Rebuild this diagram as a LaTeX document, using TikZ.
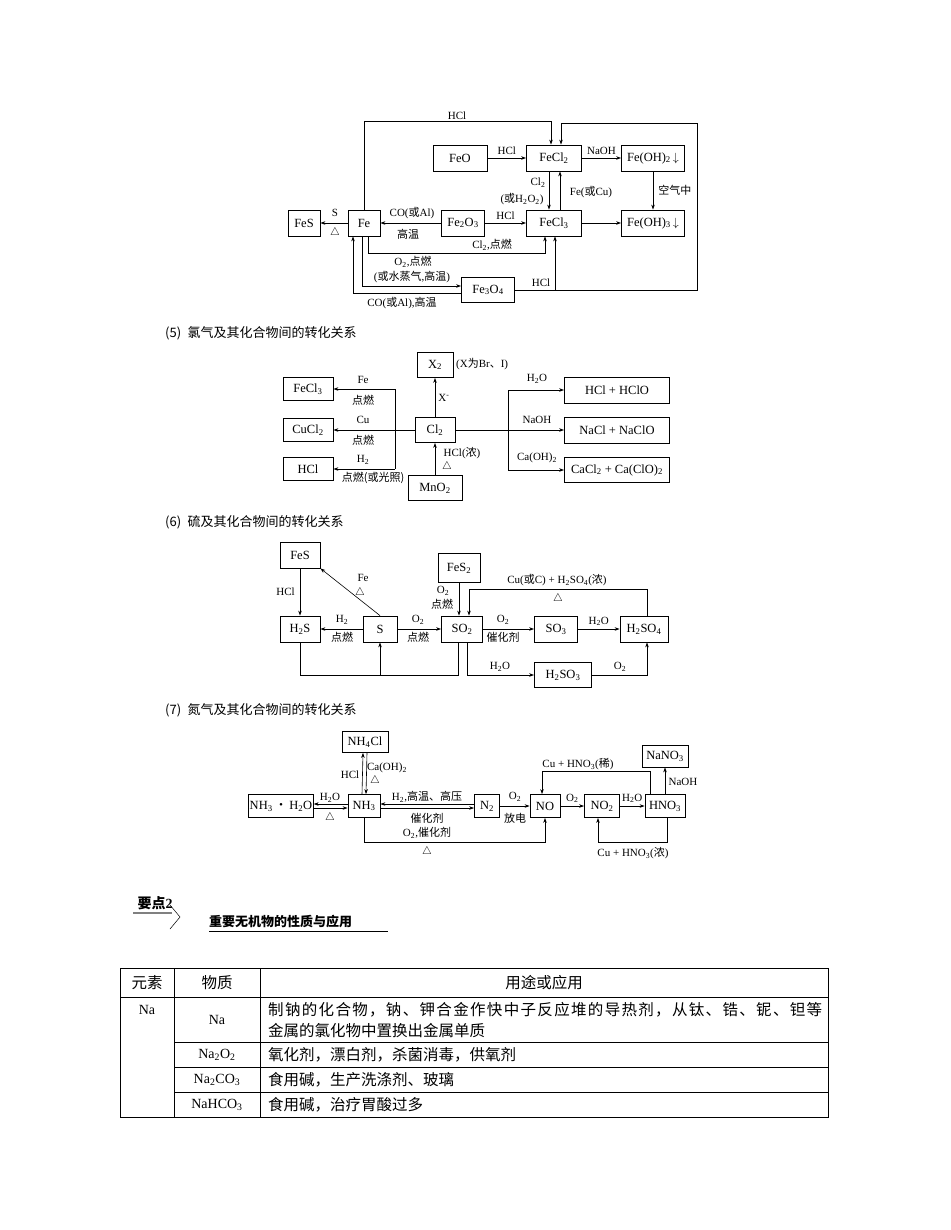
\documentclass[tikz,border=0pt]{standalone}
\usepackage{fontspec}
\setmainfont{Liberation Serif}
\newfontfamily\zhf{Noto Sans CJK SC}
\newcommand\zh[1]{{\zhf #1}}
\newcommand\dn[1]{\textsubscript{#1}}
\newcommand\up[1]{\textsuperscript{#1}}
\usetikzlibrary{arrows.meta}
\begin{document}
\begin{tikzpicture}[x=1pt,y=-1pt,
  bx/.style={draw,line width=0.8pt,minimum height=26pt,inner sep=1pt,font=\fontsize{12.5}{13}\selectfont},
  arr/.style={-{Stealth[length=5pt,width=3.5pt]},line width=0.6pt},
  ln/.style={line width=0.6pt},
  lb/.style={font=\fontsize{11}{11}\selectfont,inner sep=0pt},
  hd/.style={font=\fontsize{13}{14}\selectfont,anchor=west,inner sep=0pt},
  tx/.style={font=\fontsize{15.5}{16}\selectfont,inner sep=0pt},
  tl/.style={font=\fontsize{14}{15}\selectfont,inner sep=0pt}]
\useasboundingbox (0,0) rectangle (950,1230);
% ===== iron =====
\node[bx,minimum width=54pt] (FeO) at (460,158) {FeO};
\node[bx,minimum width=55pt] (FeCl2) at (554,158) {FeCl\dn{2}};
\node[bx,minimum width=63pt] (FeOH2) at (653,158) {Fe(OH)\dn{2}\,$\downarrow$};
\node[bx,minimum width=32pt] (FeS) at (304,223) {FeS};
\node[bx,minimum width=32pt] (Fe) at (364,223) {Fe};
\node[bx,minimum width=43pt] (Fe2O3) at (463,223) {Fe\dn{2}O\dn{3}};
\node[bx,minimum width=55pt] (FeCl3) at (554,223) {FeCl\dn{3}};
\node[bx,minimum width=63pt] (FeOH3) at (653,223) {Fe(OH)\dn{3}\,$\downarrow$};
\node[bx,minimum width=53pt,minimum height=25pt] (Fe3O4) at (488,290) {Fe\dn{3}O\dn{4}};
\draw[arr] (Fe.north) -- ++(0,-88) -| ([xshift=-3pt]FeCl2.north);
\node[lb] at (457,116) {HCl};
\coordinate (j1) at (555,290);
\draw[arr] (Fe3O4.east) -- (697,290) -- (697,123) -| ([xshift=7pt]FeCl2.north);
\draw[arr] (j1) -- (j1 |- FeCl3.south);
\node[lb] at (541,283) {HCl};
\draw[arr] (FeO) -- (FeCl2) node[lb,midway,above=3pt] {HCl};
\draw[arr] (FeCl2) -- (FeOH2) node[lb,midway,above=3pt] {NaOH};
\draw[arr] (FeOH2) -- (FeOH3) node[lb,midway,right=5pt] {\zh{空气中}};
\draw[arr] ([xshift=-5pt]FeCl2.south) -- ([xshift=-5pt]FeCl3.north);
\node[lb] at (538,183) {Cl\dn{2}};
\node[lb] at (522,199) {(\zh{或}H\dn{2}O\dn{2})};
\draw[arr] ([xshift=6pt]FeCl3.north) -- ([xshift=6pt]FeCl2.south);
\node[lb] at (591,192) {Fe(\zh{或}Cu)};
\draw[arr] (Fe2O3) -- (Fe);
\node[lb] at (412,213) {CO(\zh{或}Al)};
\node[lb] at (408,234) {\zh{高温}};
\draw[arr] (Fe2O3) -- (FeCl3) node[lb,midway,above=3pt] {HCl};
\draw[arr] (FeCl3) -- (FeOH3);
\draw[arr] (Fe) -- (FeS);
\node[lb] at (335,213) {S};
\node[lb] at (335,233) {$\triangle$};
\draw[arr] ([xshift=4pt]Fe.south) -- ++(0,17) -| ([xshift=-9pt]FeCl3.south);
\node[lb] at (492,245) {Cl\dn{2},\zh{点燃}};
\draw[arr] ([xshift=-2pt]Fe.south) |- ([yshift=4pt]Fe3O4.west);
\node[lb] at (413,262) {O\dn{2},\zh{点燃}};
\node[lb] at (412,277) {(\zh{或水蒸气},\zh{高温})};
\draw[arr] ([yshift=-3pt]Fe3O4.west) -| ([xshift=-11pt]Fe.south);
\node[lb] at (402,303) {CO(\zh{或}Al),\zh{高温}};
% ===== heading 5 =====
\node[hd] at (165,333) {\zh{(5)\enspace 氯气及其化合物间的转化关系}};
% ===== chlorine =====
\node[bx,minimum width=36pt,minimum height=25pt] (X2) at (435,365) {X\dn{2}};
\node[lb,anchor=west] at (456,364) {(X\zh{为}Br\zh{、}I)};
\node[bx,minimum width=50pt,minimum height=23pt] (FeCl3b) at (308,389) {FeCl\dn{3}};
\node[bx,minimum width=50pt,minimum height=23pt] (CuCl2) at (308,430) {CuCl\dn{2}};
\node[bx,minimum width=50pt,minimum height=23pt] (HClb) at (308,469) {HCl};
\node[bx,minimum width=40pt,minimum height=25pt] (Cl2) at (435,430) {Cl\dn{2}};
\node[bx,minimum width=54pt,minimum height=25pt] (MnO2) at (435,488) {MnO\dn{2}};
\node[bx,minimum width=105pt] (P1) at (617,390) {HCl + HClO};
\node[bx,minimum width=105pt] (P2) at (617,430) {NaCl + NaClO};
\node[bx,minimum width=105pt,minimum height=25pt] (P3) at (617,470) {CaCl\dn{2} + Ca(ClO)\dn{2}};
\coordinate (cl) at (395,430);
\draw[ln] (Cl2.west) -- (cl);
\draw[ln] (cl |- FeCl3b) -- (cl |- HClb);
\draw[arr] (cl |- FeCl3b) -- (FeCl3b.east);
\draw[arr] (cl) -- (CuCl2.east);
\draw[arr] (cl |- HClb) -- (HClb.east);
\node[lb] at (363,380) {Fe}; \node[lb] at (363,400) {\zh{点燃}};
\node[lb] at (363,420) {Cu}; \node[lb] at (363,440) {\zh{点燃}};
\node[lb] at (363,460) {H\dn{2}}; \node[lb] at (373,478) {\zh{点燃(或光照)}};
\draw[arr] (Cl2) -- (X2) node[lb,midway,right=3pt] {X\up{-}};
\draw[arr] (MnO2) -- (Cl2);
\node[lb] at (462,453) {HCl(\zh{浓})};
\node[lb] at (447,467) {$\triangle$};
\coordinate (cr) at (508,430);
\draw[ln] (Cl2.east) -- (cr);
\draw[ln] (cr |- P1) -- (cr |- P3);
\draw[arr] (cr |- P1) -- (P1.west);
\draw[arr] (cr) -- (P2.west);
\draw[arr] (cr |- P3) -- (P3.west);
\node[lb] at (537,379) {H\dn{2}O};
\node[lb] at (537,420) {NaOH};
\node[lb] at (537,458) {Ca(OH)\dn{2}};
% ===== heading 6 =====
\node[hd] at (165,522) {\zh{(6)\enspace 硫及其化合物间的转化关系}};
% ===== sulfur =====
\node[bx,minimum width=40pt] (FeSs) at (300,555) {FeS};
\node[bx,minimum width=40pt] (H2S) at (300,629) {H\dn{2}S};
\node[bx,minimum width=34pt] (S) at (380,629) {S};
\node[bx,minimum width=41pt] (SO2) at (462,629) {SO\dn{2}};
\node[bx,minimum width=42pt,minimum height=29pt] (FeS2) at (459,568) {FeS\dn{2}};
\node[bx,minimum width=43pt] (SO3) at (556,629) {SO\dn{3}};
\node[bx,minimum width=48pt] (H2SO4) at (644,629) {H\dn{2}SO\dn{4}};
\node[bx,minimum width=57pt,minimum height=25pt] (H2SO3) at (563,675) {H\dn{2}SO\dn{3}};
\draw[arr] (FeSs) -- (H2S) node[lb,midway,left=5pt] {HCl};
\draw[arr] (S.north) -- (FeSs.south east);
\node[lb] at (363,578) {Fe}; \node[lb] at (360,593) {$\triangle$};
\draw[arr] (S) -- (H2S);
\node[lb] at (342,620) {H\dn{2}}; \node[lb] at (342,637) {\zh{点燃}};
\draw[arr] (S) -- (SO2);
\node[lb] at (418,620) {O\dn{2}}; \node[lb] at (418,637) {\zh{点燃}};
\draw[arr] (FeS2) -- (FeS2 |- SO2.north);
\node[lb] at (443,591) {O\dn{2}}; \node[lb] at (442,604) {\zh{点燃}};
\draw[arr] ([xshift=3pt]H2SO4.north) -- ++(0,-26) -| ([xshift=7pt]SO2.north);
\node[lb] at (557,580) {Cu(\zh{或}C) + H\dn{2}SO\dn{4}(\zh{浓})};
\node[lb] at (558,599) {$\triangle$};
\draw[arr] (SO2) -- (SO3);
\node[lb] at (503,620) {O\dn{2}}; \node[lb] at (503,637) {\zh{催化剂}};
\draw[arr] (SO3) -- (H2SO4) node[lb,midway,above=3pt] {H\dn{2}O};
\coordinate (sb) at (380,675);
\draw[ln] (H2S.south) -- (H2S.south |- sb) -- (sb -| 458,0) -- ([xshift=-4pt]SO2.south);
\draw[arr] (sb) -- (S.south);
\draw[arr] ([xshift=5pt]SO2.south) |- (H2SO3.west);
\node[lb] at (500,667) {H\dn{2}O};
\draw[arr] (H2SO3.east) -| ([xshift=3pt]H2SO4.south);
\node[lb] at (620,667) {O\dn{2}};
% ===== heading 7 =====
\node[hd] at (165,710) {\zh{(7)\enspace 氮气及其化合物间的转化关系}};
% ===== nitrogen =====
\node[bx,minimum width=46pt,minimum height=21pt] (NH4Cl) at (365,742) {NH\dn{4}Cl};
\node[bx,minimum width=58pt,minimum height=23pt] (NH3W) at (281,806) {NH\dn{3}\,\zh{·}\,H\dn{2}O};
\node[bx,minimum width=32pt,minimum height=23pt] (NH3) at (364,806) {NH\dn{3}};
\node[bx,minimum width=25pt,minimum height=23pt] (N2) at (487,806) {N\dn{2}};
\node[bx,minimum width=30pt,minimum height=23pt] (NO) at (545,806) {NO};
\node[bx,minimum width=35pt,minimum height=23pt] (NO2) at (602,806) {NO\dn{2}};
\node[bx,minimum width=40pt,minimum height=23pt] (HNO3) at (665,806) {HNO\dn{3}};
\node[bx,minimum width=46pt,minimum height=22pt] (NaNO3) at (665,756) {NaNO\dn{3}};
\draw[arr] ([xshift=-2pt]NH3.north) -- ([xshift=-2pt]NH4Cl.south);
\draw[arr] ([xshift=2pt]NH4Cl.south) -- ([xshift=2pt]NH3.north);
\node[lb] at (350,775) {HCl};
\node[lb] at (387,768) {Ca(OH)\dn{2}};
\node[lb] at (375,781) {$\triangle$};
\draw[arr] ([yshift=2pt]NH3.west) -- ([yshift=2pt]NH3W.east);
\draw[arr] ([yshift=-2pt]NH3W.east) -- ([yshift=-2pt]NH3.west);
\node[lb] at (330,798) {H\dn{2}O}; \node[lb] at (330,818) {$\triangle$};
\draw[arr] ([yshift=2pt]N2.west) -- ([yshift=2pt]NH3.east);
\draw[arr] ([yshift=-2pt]NH3.east) -- ([yshift=-2pt]N2.west);
\node[lb] at (427,797) {H\dn{2},\zh{高温、高压}}; \node[lb] at (427,818) {\zh{催化剂}};
\draw[arr] (N2) -- (NO);
\node[lb] at (515,797) {O\dn{2}}; \node[lb] at (515,818) {\zh{放电}};
\draw[arr] (NH3.south) -- ++(0,24) -| (NO.south);
\node[lb] at (427,833) {O\dn{2},\zh{催化剂}}; \node[lb] at (427,852) {$\triangle$};
\draw[arr] (NO) -- (NO2) node[lb,midway,above=3pt] {O\dn{2}};
\draw[arr] (NO2) -- (HNO3) node[lb,midway,above=3pt] {H\dn{2}O};
\draw[arr] ([xshift=-15pt]HNO3.north) -- ++(0,-23) -| ([xshift=-3pt]NO.north);
\node[lb] at (578,764) {Cu + HNO\dn{3}(\zh{稀})};
\draw[arr] ([xshift=2pt]HNO3.south) -- ++(0,24) -| ([xshift=-4pt]NO2.south);
\node[lb] at (633,853) {Cu + HNO\dn{3}(\zh{浓})};
\draw[arr] (HNO3) -- (NaNO3);
\node[lb] at (683,782) {NaOH};
% ===== key point heading =====
\node[font=\fontsize{14}{15}\selectfont\bfseries,inner sep=0pt] (kp) at (155,903) {\zh{要点}2};
\draw[line width=1.5pt,gray] (133,913) -- (172,913);
\draw[line width=0.5pt] (170,905) -- (180,917) -- (170,929);
\node[font=\fontsize{13}{14}\selectfont\bfseries,anchor=west,inner sep=0pt] (kt) at (209,922) {\zh{重要无机物的性质与应用}};
\draw[line width=0.6pt] (209,931) -- (388,931);
% ===== table =====
\draw[line width=1pt] (120,968) -- (828,968);
\draw[line width=0.7pt] (120,968) rectangle (828,1117);
\draw[line width=0.7pt] (120,997) -- (828,997);
\draw[line width=0.7pt] (174,1042) -- (828,1042) (174,1067) -- (828,1067) (174,1092) -- (828,1092);
\draw[line width=0.7pt] (174,968) -- (174,1117) (260,968) -- (260,1117);
\node[tx] at (147,983) {\zh{元素}};
\node[tx] at (217,983) {\zh{物质}};
\node[tx] at (544,983) {\zh{用途或应用}};
\node[tl] at (147,1010) {Na};
\node[tl] at (217,1020) {Na};
\node[tl] at (217,1055) {Na\dn{2}O\dn{2}};
\node[tl] at (217,1080) {Na\dn{2}CO\dn{3}};
\node[tl] at (217,1105) {NaHCO\dn{3}};
\node[tx,anchor=west] at (268,1010) {\makebox[554pt][s]{\zhf 制\hfill 钠\hfill 的\hfill 化\hfill 合\hfill 物\hfill ，\hfill 钠\hfill 、\hfill 钾\hfill 合\hfill 金\hfill 作\hfill 快\hfill 中\hfill 子\hfill 反\hfill 应\hfill 堆\hfill 的\hfill 导\hfill 热\hfill 剂\hfill ，\hfill 从\hfill 钛\hfill 、\hfill 锆\hfill 、\hfill 铌\hfill 、\hfill 钽\hfill 等}};
\node[tx,anchor=west] at (268,1031) {\zh{金属的氯化物中置换出金属单质}};
\node[tx,anchor=west] at (268,1055) {\zh{氧化剂，漂白剂，杀菌消毒，供氧剂}};
\node[tx,anchor=west] at (268,1080) {\zh{食用碱，生产洗涤剂、玻璃}};
\node[tx,anchor=west] at (268,1105) {\zh{食用碱，治疗胃酸过多}};
\end{tikzpicture}
\end{document}
